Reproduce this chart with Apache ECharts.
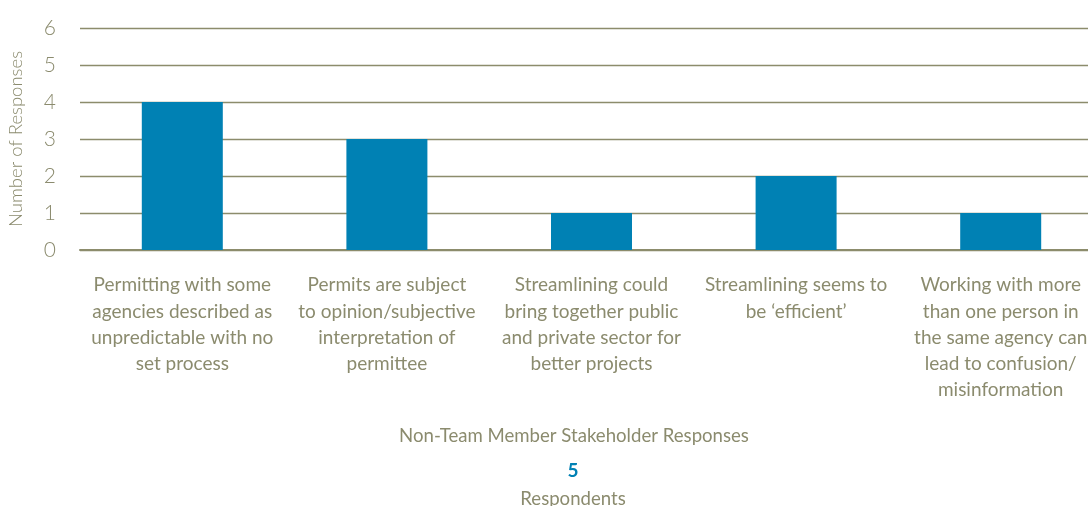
<!DOCTYPE html>
<html>
<head>
<meta charset="utf-8">
<script src="https://cdn.jsdelivr.net/npm/echarts@6/dist/echarts.min.js"></script>
<style>
  html, body { margin: 0; padding: 0; background: #ffffff; }
  #chart { width: 1088px; height: 506px; }
</style>
</head>
<body>
<div id="chart"></div>
<script>
// Stakeholder responses by theme
const categories = [
  'Permitting with some\nagencies described as\nunpredictable with no\nset process',
  'Permits are subject\nto opinion/subjective\ninterpretation of\npermittee',
  'Streamlining could\nbring together public\nand private sector for\nbetter projects',
  'Streamlining seems to\nbe \u2018efficient\u2019',
  'Working with more\nthan one person in\nthe same agency can\nlead to confusion/\nmisinformation'
];
const responses = [4, 3, 1, 2, 1];
const yTicks = [0, 1, 2, 3, 4, 5, 6];
const groupTitle = 'Non-Team Member Stakeholder Responses';
const respondentCount = 5;
const respondentLabel = 'Respondents';

const FONT = 'Lato, "Open Sans", sans-serif';
const TEXT = '#8b8b6e';
const RULE = '#8c8c6c';
const BLUE = '#0081b4';

const chart = echarts.init(document.getElementById('chart'), null, { renderer: 'canvas' });
chart.setOption({
  animation: false,
  backgroundColor: '#ffffff',
  // plot area runs past the right edge of the canvas
  grid: { left: 80, width: 1023, top: 28, height: 222, containLabel: false, outerBoundsMode: 'none' },
  title: [
    { text: groupTitle, left: 569, top: 421, textAlign: 'center',
      textStyle: { fontFamily: FONT, fontSize: 18.6, fontWeight: 'normal', color: TEXT } },
    { text: String(respondentCount), left: 568, top: 456, textAlign: 'center',
      textStyle: { fontFamily: FONT, fontSize: 19, fontWeight: 'bold', color: BLUE } },
    { text: respondentLabel, left: 568, top: 484, textAlign: 'center',
      textStyle: { fontFamily: FONT, fontSize: 18.6, fontWeight: 'normal', color: TEXT } }
  ],
  xAxis: {
    type: 'category',
    data: categories,
    axisTick: { show: false },
    axisLine: { show: true, lineStyle: { color: RULE, width: 2 } },
    axisLabel: {
      interval: 0,
      margin: 22,
      fontFamily: FONT,
      fontSize: 19,
      fontWeight: 'normal',
      lineHeight: 26.3,
      color: TEXT,
      align: 'center'
    }
  },
  yAxis: {
    type: 'value',
    min: yTicks[0],
    max: yTicks[yTicks.length - 1],
    interval: 1,
    name: 'Number of Responses',
    nameLocation: 'middle',
    nameGap: 54,
    nameRotate: 90,
    nameTextStyle: { fontFamily: FONT, fontSize: 18.5, fontWeight: 300, color: TEXT },
    axisLine: { show: false },
    axisTick: { show: false },
    axisLabel: {
      margin: 24,
      fontFamily: FONT,
      fontSize: 21,
      fontWeight: 300,
      color: TEXT,
      formatter: v => (yTicks.includes(v) ? String(v) : '')
    },
    splitLine: { show: true, lineStyle: { color: RULE, width: 1.3 } }
  },
  series: [{
    type: 'bar',
    data: responses,
    barWidth: 81,
    itemStyle: { color: BLUE },
    z: 1
  }]
});
</script>
</body>
</html>
